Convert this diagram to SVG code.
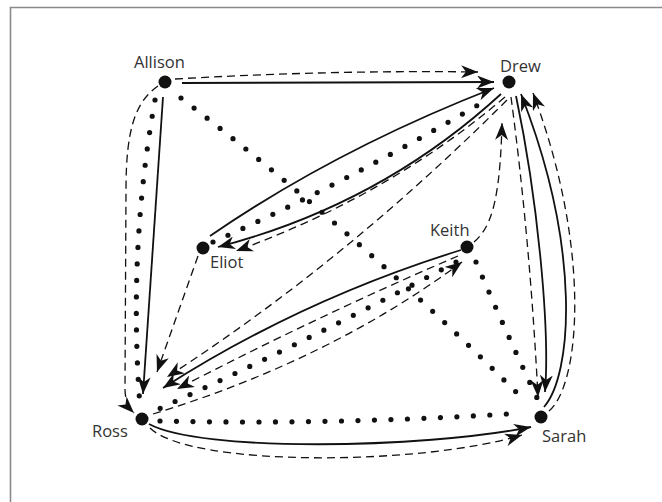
<svg xmlns="http://www.w3.org/2000/svg" width="662" height="502" viewBox="0 0 662 502">
<style>
.frame{fill:none;stroke:#8a8a8a;stroke-width:1.6}
.solid{fill:none;stroke:#111;stroke-width:1.8}
.dash{fill:none;stroke:#111;stroke-width:1.3;stroke-dasharray:8 5}
.dot{fill:none;stroke:#111;stroke-width:5.2;stroke-dasharray:0 16.5;stroke-linecap:round}
.arr{marker-end:url(#ah)}
.node{fill:#111}
.lbl{font-family:"Open Sans","DejaVu Sans",sans-serif;font-size:16.5px;fill:#333}
</style>
<defs>
<marker id="ah" markerWidth="18" markerHeight="13" refX="17" refY="6.5" orient="auto" markerUnits="userSpaceOnUse">
<path d="M0,0 L17,6.5 L0,13 L5,6.5 Z" fill="#111"/>
</marker>
</defs>
<rect width="662" height="502" fill="#fff"/>
<path class="frame" d="M10.5,502 L10.5,7.5 L662,7.5"/>
<g id="connectors">
<!-- Allison -->
<path class="dash arr" d="M175,79 Q330,70 478,72"/>
<path class="solid arr" d="M182,83 L494,82"/>
<path class="solid arr" d="M163,97 L143,394"/>
<path class="dot" d="M155,100 Q128,250 140,406"/>
<path class="dash arr" d="M158,86 C135,102 126,130 126,190 L125,388 C125,400 128,407 134,413"/>
<path class="dot" d="M181,98 Q361,236 521,397"/>
<!-- Eliot / Drew -->
<path class="solid arr" d="M210,236 Q335,150 494,88"/>
<path class="dot" d="M213,242 Q345,183 478,105"/>
<path class="solid arr" d="M501,94 Q380,205 218,247"/>
<path class="dash arr" d="M505,97 Q390,195 236,251"/>
<path class="dash arr" d="M198,256 L157,372"/>
<path class="dash arr" d="M507,100 Q345,262 167,377"/>
<!-- Keith -->
<path class="dash arr" d="M474,242 C490,228 500,205 502,123"/>
<path class="solid arr" d="M461,250 Q300,300 163,388"/>
<path class="dash arr" d="M458,256 Q320,315 177,389"/>
<path class="dot" d="M456,262 Q300,345 152,412"/>
<path class="dash arr" d="M153,414 Q330,360 462,262"/>
<path class="dot" d="M476,262 Q505,330 538,400"/>
<!-- Drew / Sarah -->
<path class="dash arr" d="M511,97 Q530,240 538,397"/>
<path class="solid arr" d="M516,96 C538,200 550,330 545,392"/>
<path class="solid arr" d="M544,407 C572,375 582,250 521,94"/>
<path class="dash arr" d="M549,411 C580,385 592,250 533,93"/>
<!-- Ross / Sarah -->
<path class="dot" d="M160,421 Q340,425 522,413"/>
<path class="solid arr" d="M149,424 C200,452 420,449 531,427"/>
<path class="dash arr" d="M150,428 C190,467 420,466 522,435"/>
</g>
<g id="Allison"><circle class="node" cx="165" cy="82" r="6.5"/><text class="lbl" x="134" y="68">Allison</text></g>
<g id="Drew"><circle class="node" cx="509" cy="82" r="6.5"/><text class="lbl" x="500" y="72">Drew</text></g>
<g id="Eliot"><circle class="node" cx="203" cy="248" r="6.5"/><text class="lbl" x="210" y="268">Eliot</text></g>
<g id="Keith"><circle class="node" cx="467" cy="247" r="6.5"/><text class="lbl" x="430" y="236">Keith</text></g>
<g id="Ross"><circle class="node" cx="142" cy="419" r="6.5"/><text class="lbl" x="92" y="437">Ross</text></g>
<g id="Sarah"><circle class="node" cx="541" cy="417" r="6.5"/><text class="lbl" x="542" y="442">Sarah</text></g>
</svg>
